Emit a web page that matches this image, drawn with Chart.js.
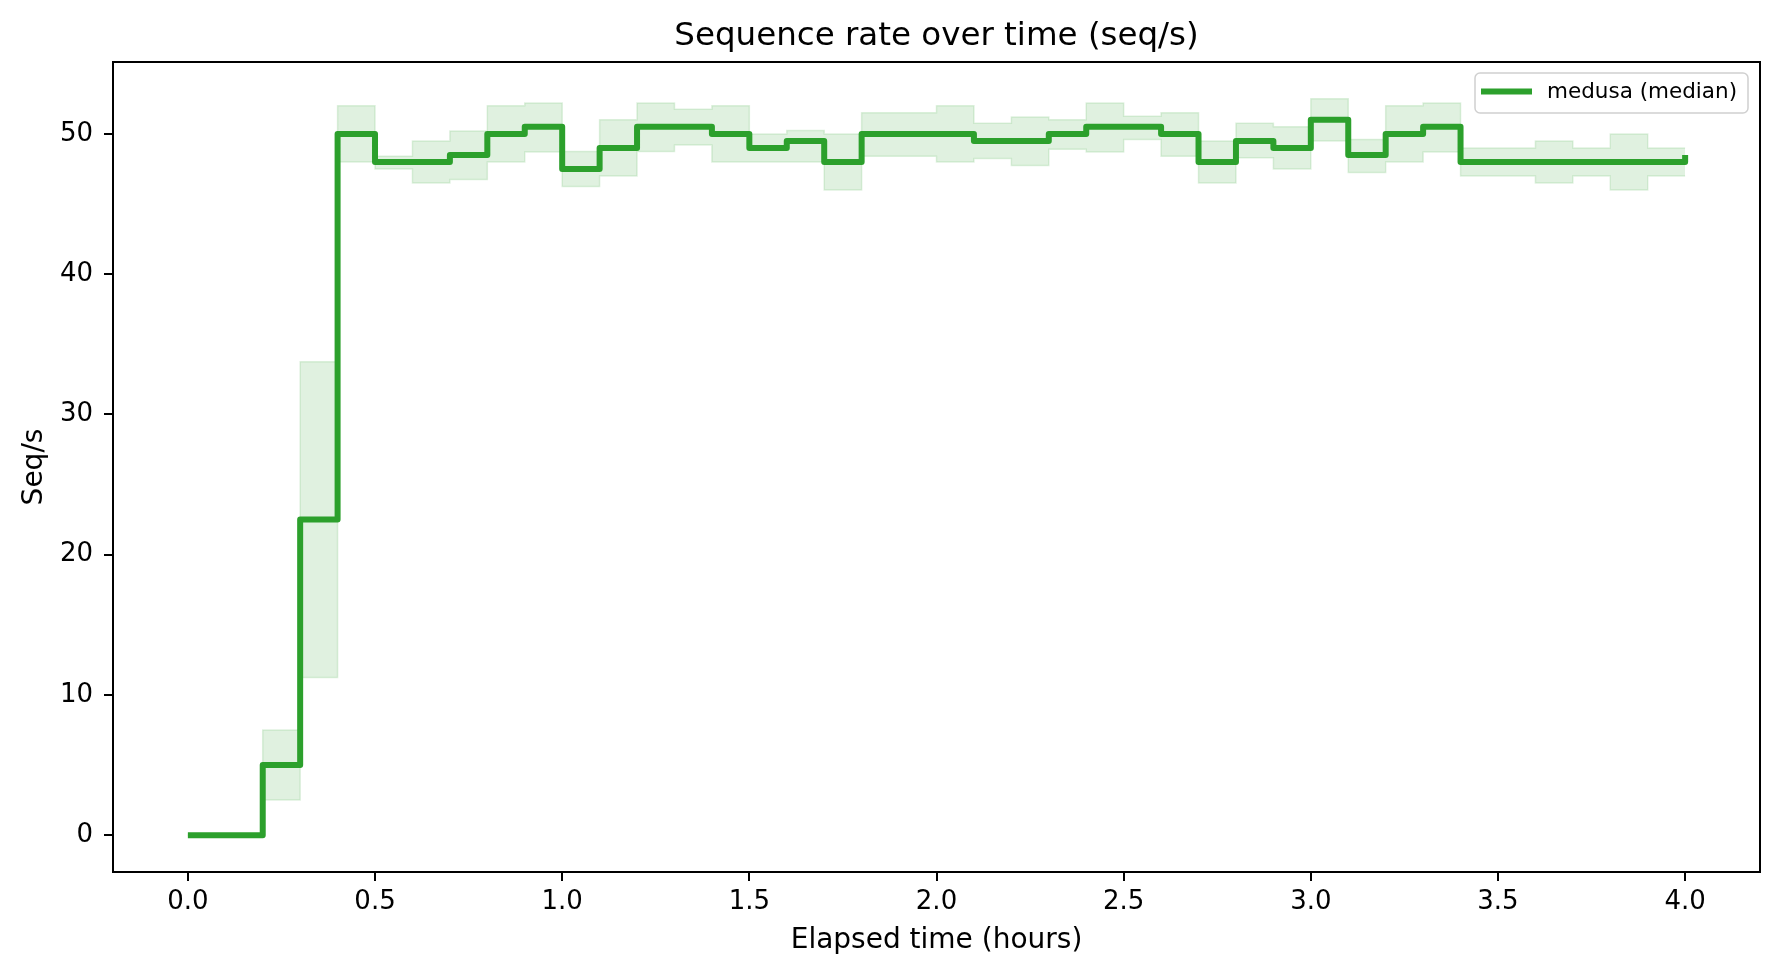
<!DOCTYPE html>
<html>
<head>
<meta charset="utf-8">
<script src="https://cdn.jsdelivr.net/npm/chart.js@4/dist/chart.umd.min.js"></script>
<style>
  html, body { margin: 0; padding: 0; background: #fff; }
  #wrap { width: 1780px; height: 978px; position: relative; }
</style>
</head>
<body>
<div id="wrap"><canvas id="rate-chart"></canvas></div>
<script>
// elapsed time, hours (bin starts, last point = end)
var hours = [0.0, 0.1, 0.2, 0.3, 0.4, 0.5, 0.6, 0.7, 0.8, 0.9,
             1.0, 1.1, 1.2, 1.3, 1.4, 1.5, 1.6, 1.7, 1.8, 1.9,
             2.0, 2.1, 2.2, 2.3, 2.4, 2.5, 2.6, 2.7, 2.8, 2.9,
             3.0, 3.1, 3.2, 3.3, 3.4, 3.5, 3.6, 3.7, 3.8, 3.9, 4.0];

// medusa median seq/s
var median = [0, 0, 5, 22.5, 50, 48, 48, 48.5, 50, 50.5,
              47.5, 49, 50.5, 50.5, 50, 49, 49.5, 48, 50, 50,
              50, 49.5, 49.5, 50, 50.5, 50.5, 50, 48, 49.5, 49,
              51, 48.5, 50, 50.5, 48, 48, 48, 48, 48, 48, 48.5];

// spread band
var lower = [0, 0, 2.5, 11.25, 48, 47.5, 46.5, 46.75, 48, 48.7,
             46.25, 47, 48.75, 49.2, 48, 48, 48, 46, 48.4, 48.4,
             48, 48.25, 47.75, 48.9, 48.7, 49.6, 48.4, 46.5, 48.3, 47.5,
             49.5, 47.25, 48, 48.7, 47, 47, 46.5, 47, 46, 47, 47];
var upper = [0, 0, 7.5, 33.75, 52, 48.4, 49.5, 50.2, 52, 52.2,
             48.75, 51, 52.2, 51.75, 52, 50, 50.25, 50, 51.5, 51.5,
             52, 50.75, 51.2, 51, 52.2, 51.25, 51.5, 49.5, 50.75, 50.5,
             52.5, 49.6, 52, 52.2, 49, 49, 49.5, 49, 50, 49, 49];

var seriesLabel = 'medusa (median)';
var green = '#2ca02c';
var band = 'rgba(44,160,44,0.15)';
var FONT = 'DejaVu Sans';

// matplotlib style 5% margins
var xLo = Math.min.apply(null, hours), xHi = Math.max.apply(null, hours);
var yLo = Math.min.apply(null, lower), yHi = Math.max.apply(null, upper);
var xMin = xLo - (xHi - xLo) * 0.05, xMax = xHi + (xHi - xLo) * 0.05;
var yMin = yLo - (yHi - yLo) * 0.05, yMax = yHi + (yHi - yLo) * 0.05;

function pts(vals) {
    return hours.map(function (h, i) { return { x: h, y: vals[i] }; });
}

// frame, title and legend box drawn like matplotlib
var mplDecor = {
    id: 'mplDecor',
    afterDraw: function (chart) {
        var ctx = chart.ctx, a = chart.chartArea;
        ctx.save();
        ctx.strokeStyle = '#000';
        ctx.lineWidth = 2;
        ctx.strokeRect(a.left, a.top, a.right - a.left, a.bottom - a.top);

        // title
        ctx.fillStyle = '#000';
        ctx.font = '32.5px "' + FONT + '"';
        ctx.textAlign = 'center';
        ctx.textBaseline = 'alphabetic';
        ctx.fillText('Sequence rate over time (seq/s)', (a.left + a.right) / 2, 45);

        // legend
        var bx = a.right - 285, by = a.top + 11, bw = 273, bh = 40;
        ctx.beginPath();
        ctx.roundRect(bx, by, bw, bh, 5);
        ctx.fillStyle = 'rgba(255,255,255,0.8)';
        ctx.fill();
        ctx.strokeStyle = '#d0d0d0';
        ctx.lineWidth = 1.5;
        ctx.stroke();
        ctx.beginPath();
        ctx.moveTo(bx + 6, by + 18.5);
        ctx.lineTo(bx + 57, by + 18.5);
        ctx.strokeStyle = green;
        ctx.lineWidth = 6;
        ctx.stroke();
        ctx.fillStyle = '#000';
        ctx.font = '21.5px "' + FONT + '"';
        ctx.textAlign = 'left';
        ctx.fillText(seriesLabel, bx + 72, by + 25);
        ctx.restore();
    }
};

var ctx = document.getElementById('rate-chart');
var rateChart = new Chart(ctx, {
    type: 'line',
    data: {
        datasets: [
            {
                label: seriesLabel,
                data: pts(median),
                stepped: 'before',
                borderColor: green,
                borderWidth: 6,
                borderJoinStyle: 'round',
                pointRadius: 0,
                fill: false
            },
            {
                label: 'upper',
                data: pts(upper),
                stepped: 'before',
                borderColor: band,
                borderWidth: 1.5,
                backgroundColor: band,
                pointRadius: 0,
                fill: '+1'
            },
            {
                label: 'lower',
                data: pts(lower),
                stepped: 'before',
                borderColor: band,
                borderWidth: 1.5,
                pointRadius: 0,
                fill: false
            }
        ]
    },
    options: {
        responsive: true,
        maintainAspectRatio: false,
        animation: false,
        devicePixelRatio: 1,
        layout: { padding: { top: 62, right: 20, left: 0, bottom: 0 } },
        plugins: {
            legend: { display: false },
            title: { display: false },
            tooltip: { enabled: false }
        },
        scales: {
            x: {
                type: 'linear',
                min: xMin,
                max: xMax,
                afterFit: function (s) { s.height = 106; },
                ticks: {
                    stepSize: 0.5,
                    includeBounds: false,
                    maxRotation: 0,
                    autoSkip: false,
                    padding: 6,
                    color: '#000',
                    font: { family: FONT, size: 26 },
                    callback: function (v) { return v.toFixed(1); }
                },
                grid: { drawOnChartArea: false, drawTicks: true, tickLength: 9, color: '#000', lineWidth: 2 },
                border: { display: true, color: '#000', width: 2 },
                title: {
                    display: true,
                    text: 'Elapsed time (hours)',
                    color: '#000',
                    font: { family: FONT, size: 28 },
                    padding: { top: 0, bottom: 20 }
                }
            },
            y: {
                min: yMin,
                max: yMax,
                afterFit: function (s) { s.width = 113; },
                ticks: {
                    stepSize: 10,
                    includeBounds: false,
                    padding: 11,
                    color: '#000',
                    font: { family: FONT, size: 26 }
                },
                grid: { drawOnChartArea: false, drawTicks: true, tickLength: 9, color: '#000', lineWidth: 2 },
                border: { display: true, color: '#000', width: 2 },
                title: {
                    display: true,
                    text: 'Seq/s',
                    color: '#000',
                    font: { family: FONT, size: 28 },
                    padding: { top: 18, bottom: 0 }
                }
            }
        }
    },
    plugins: [mplDecor]
});
</script>
</body>
</html>
